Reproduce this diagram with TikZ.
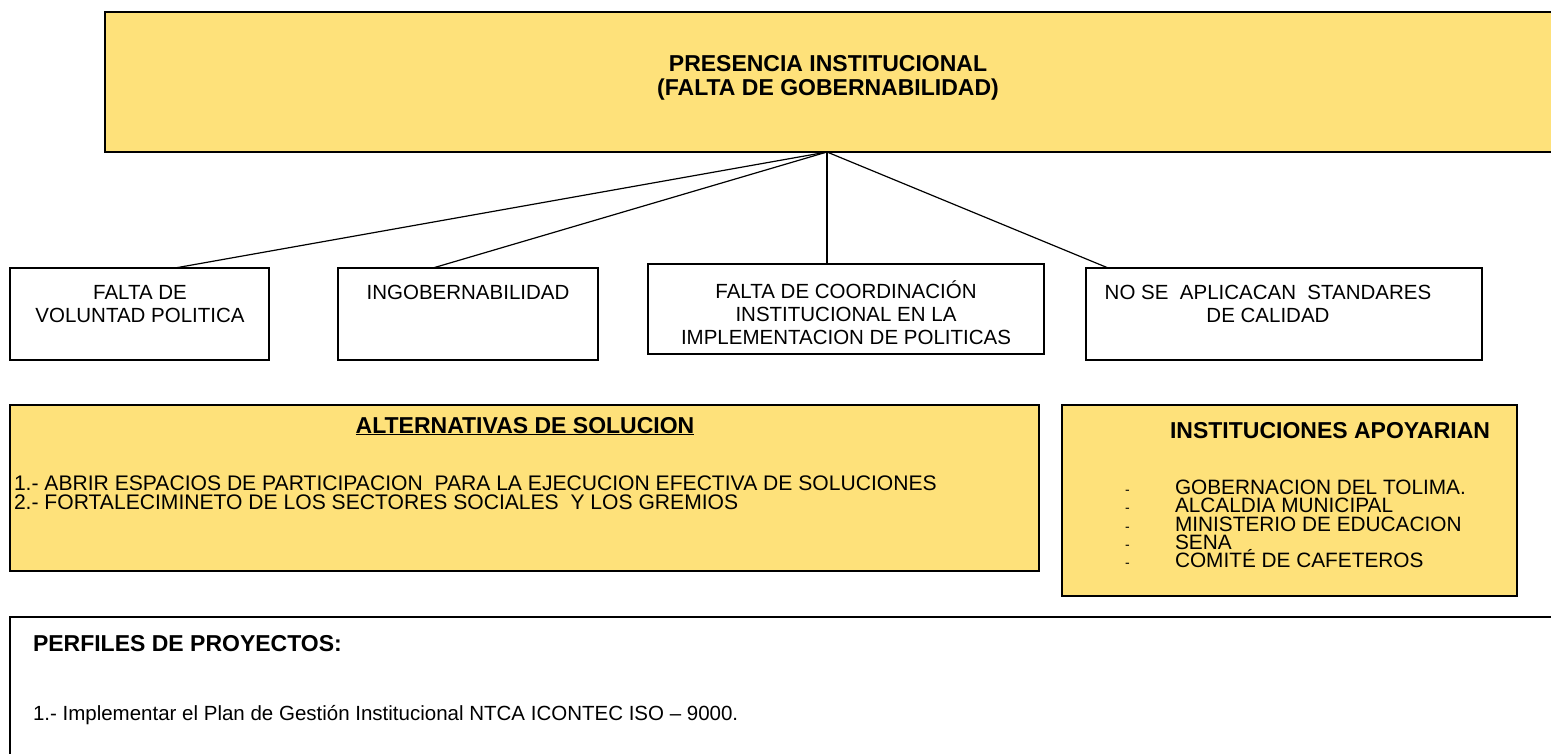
\documentclass[tikz,border=0pt]{standalone}
\usepackage{fontspec}
\setmainfont{Liberation Sans}
\usetikzlibrary{calc}
\definecolor{boxyellow}{RGB}{254,225,122}
\newcommand\mytightls{\lineskiplimit=-100pt\relax}
\newcommand\mydsh{\makebox[50pt][l]{\fontsize{14}{14}\selectfont -}}
\begin{document}
\begin{tikzpicture}[x=1pt,y=-1pt,
  bx/.style={draw=black, line width=1.3pt, inner sep=0pt, outer sep=0pt, anchor=north west},
  ybx/.style={bx, fill=boxyellow},
  conn/.style={draw=black, line width=1.2pt},
  body/.style={inner sep=0pt, outer sep=0pt, anchor=north, align=center,
    font={\fontsize{20.5}{23}\selectfont\mytightls}},
  bodyl/.style={inner sep=0pt, outer sep=0pt, anchor=north west, align=left,
    font={\fontsize{20.5}{18.2}\selectfont\mytightls}},
  ttl/.style={inner sep=0pt, outer sep=0pt, anchor=north, align=center,
    font={\fontsize{23}{24}\selectfont\bfseries\mytightls}}]
\useasboundingbox (0,0) rectangle (1551,753);
\clip (0,0) rectangle (1551,753);

% top box
\node[ybx, line width=2pt, minimum width=1480pt, minimum height=140pt] (top) at (105,12) {};
\node[ttl] (toptxt) at (828,55) {PRESENCIA INSTITUCIONAL\\(FALTA DE GOBERNABILIDAD)};

% cause boxes
\node[bx, minimum width=259pt, minimum height=92pt] (b1) at (10,268) {};
\node[bx, minimum width=260pt, minimum height=92pt] (b2) at (338,268) {};
\node[bx, minimum width=396pt, minimum height=90pt] (b3) at (648,264) {};
\node[bx, minimum width=396pt, minimum height=92pt] (b4) at (1086,268) {};

\node[body] (t1) at (140,285) {FALTA DE\\VOLUNTAD POLITICA};
\node[body] (t2) at (468,285) {INGOBERNABILIDAD};
\node[body] (t3) at (846,281) {FALTA DE COORDINACIÓN\\INSTITUCIONAL EN LA\\IMPLEMENTACION DE POLITICAS};
\node[body] (t4) at (1268,285) {NO SE\ \ APLICACAN\ \ STANDARES\\DE CALIDAD};

% connectors
\coordinate (b3top) at ($(b3.north west)!0.452!(b3.north east)$);
\coordinate (hub) at (b3top |- top.south);
\draw[conn] (hub) -- ($(b1.north west)!0.637!(b1.north east)$);
\draw[conn] (hub) -- ($(b2.north west)!0.365!(b2.north east)$);
\draw[conn] (hub) -- (b3top);
\draw[conn] (hub) -- ($(b4.north west)!0.056!(b4.north east)$);

% alternatives
\node[ybx, minimum width=1029pt, minimum height=166pt] (alt) at (10,405) {};
\node[ttl] (alttl) at (525,417) {\underline{ALTERNATIVAS DE SOLUCION}};
\node[bodyl, font={\fontsize{21.1}{18.4}\selectfont\mytightls}] (altxt) at (14,476) {1.- ABRIR ESPACIOS DE PARTICIPACION\ \ PARA LA EJECUCION EFECTIVA DE SOLUCIONES\\2.- FORTALECIMINETO DE LOS SECTORES SOCIALES\ \ Y LOS GREMIOS};

% institutions
\node[ybx, minimum width=455pt, minimum height=191pt] (inst) at (1062,405) {};
\node[ttl] (insttl) at (1330,422) {INSTITUCIONES APOYARIAN};
\node[bodyl, font={\fontsize{20.8}{18.3}\selectfont\mytightls}] (instxt) at (1125,480) {\mydsh GOBERNACION DEL TOLIMA.\\\mydsh ALCALDIA MUNICIPAL\\\mydsh MINISTERIO DE EDUCACION\\\mydsh SENA\\\mydsh COMITÉ DE CAFETEROS};

% project profiles
\node[bx, line width=1.6pt, minimum width=1570pt, minimum height=160pt] (perf) at (10,617) {};
\node[ttl, anchor=north west] (perftl) at (33,635) {PERFILES DE PROYECTOS:};
\node[bodyl] (perftx) at (33,705) {1.- Implementar el Plan de Gestión Institucional NTCA ICONTEC ISO – 9000.};
\end{tikzpicture}
\end{document}
